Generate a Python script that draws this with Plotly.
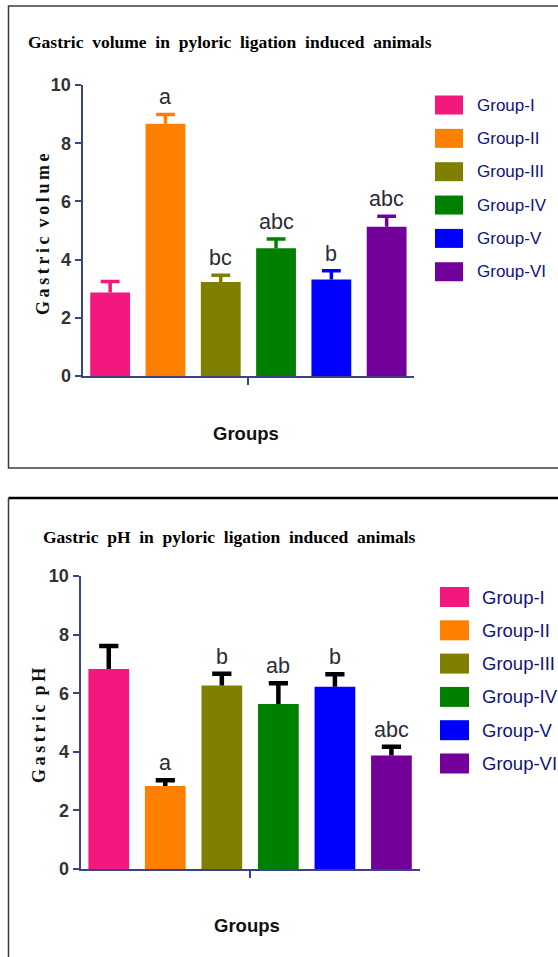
import plotly.graph_objects as go

W, H = 558, 957

# ---------------- data ----------------
groups = ["Group-I", "Group-II", "Group-III", "Group-IV", "Group-V", "Group-VI"]
colors = ["#F2187E", "#FF7F00", "#808000", "#008000", "#0000FF", "#73009A"]

vol_mean = [2.87, 8.67, 3.23, 4.39, 3.32, 5.13]
vol_err = [0.38, 0.32, 0.23, 0.32, 0.30, 0.36]
vol_letters = ["", "a", "bc", "abc", "b", "abc"]

ph_mean = [6.83, 2.83, 6.26, 5.63, 6.22, 3.87]
ph_err = [0.78, 0.20, 0.40, 0.71, 0.43, 0.30]
ph_letters = ["", "a", "b", "ab", "b", "abc"]

y_ticks = [0, 2, 4, 6, 8, 10]

vol_title = "Gastric volume in pyloric ligation induced animals"
ph_title = "Gastric pH in pyloric ligation induced animals"
vol_ytitle = "Gastric volume"
ph_ytitle = "Gastric pH"
x_title = "Groups"

# ---------------- helpers ----------------
AX = "#3A4388"
LEG_TXT = "#12127A"
LET_COL = "#2B2B38"
SANS = "Arial"


def px(x):
    return x / W


def py(y):
    return 1 - y / H


def spaced_title(s):
    return " \u00a0".join(s.split(" "))


def spaced_letters(s):
    return " \u00a0".join("\u2009".join(list(w)) for w in s.split(" "))


panels = [
    dict(ax="", mean=vol_mean, err=vol_err, letters=vol_letters,
         xdom=(82.5, 414.3), ytop=85, ybot=376,
         title=vol_title, tx=25.6, ty=42,
         ytitle=vol_ytitle, ytx=43, yty=234,
         gx=246, gy=433,
         leg_sq=(435, 463), leg_tx=475, leg_y0=105, leg_dy=33.35, leg_h=19, leg_fs=17,
         err_col=None, err_w=3.5),
    dict(ax="2", mean=ph_mean, err=ph_err, letters=ph_letters,
         xdom=(80.5, 419.7), ytop=576, ybot=869,
         title=ph_title, tx=41, ty=537,
         ytitle=ph_ytitle, ytx=39, yty=725,
         gx=247, gy=925,
         leg_sq=(440, 469), leg_tx=480, leg_y0=597, leg_dy=33.3, leg_h=20, leg_fs=18.5,
         err_col="#000000", err_w=4.5),
]

fig = go.Figure()
annotations = []
shapes = []
layout_axes = {}

for p in panels:
    xa = "x" + p["ax"]
    ya = "y" + p["ax"]
    n = len(groups)
    for i in range(n):
        m = p["mean"][i]
        fig.add_trace(go.Bar(
            x=[i], y=[m], width=0.72, marker_color=colors[i],
            marker_line_width=0, xaxis=xa, yaxis=ya, showlegend=False,
            name=groups[i], hoverinfo="skip"))
    for i in range(n):
        m = p["mean"][i]
        e = p["err"][i]
        hw = 0.17
        ec = p["err_col"] or colors[i]
        fig.add_trace(go.Scatter(
            x=[i, i, None, i - hw, i + hw],
            y=[m, m + e, None, m + e, m + e],
            mode="lines", line=dict(color=ec, width=p["err_w"]),
            xaxis=xa, yaxis=ya, showlegend=False, hoverinfo="skip"))
        if p["letters"][i]:
            annotations.append(dict(
                x=i, y=m + e, xref=xa, yref=ya, text=p["letters"][i],
                showarrow=False, yanchor="bottom", yshift=3,
                font=dict(family=SANS, size=21.5, color=LET_COL)))

    layout_axes["xaxis" + p["ax"]] = dict(
        domain=[px(p["xdom"][0]), px(p["xdom"][1])], range=[-0.5, n - 0.5],
        showline=True, linecolor=AX, linewidth=2,
        tickvals=[(n - 1) / 2], ticks="outside", ticklen=7, tickwidth=2,
        tickcolor=AX, showticklabels=False, showgrid=False, zeroline=False,
        anchor=ya, fixedrange=True, automargin=False)
    layout_axes["yaxis" + p["ax"]] = dict(
        domain=[py(p["ybot"]), py(p["ytop"])], range=[0, 10],
        showline=True, linecolor=AX, linewidth=2,
        tickvals=y_ticks, ticks="outside", ticklen=6, tickwidth=2, tickcolor=AX,
        tickfont=dict(family=SANS, size=18, color="#333333", weight="bold"),
        showgrid=False, zeroline=False, anchor=xa, fixedrange=True, automargin=False)

    # chart title
    annotations.append(dict(
        x=px(p["tx"]), y=py(p["ty"]), xref="paper", yref="paper",
        xanchor="left", yanchor="middle", showarrow=False,
        text=spaced_title(p["title"]),
        font=dict(family="Liberation Serif", size=17.5, color="#000000", weight="bold")))
    # y-axis title
    annotations.append(dict(
        x=px(p["ytx"]), y=py(p["yty"]), xref="paper", yref="paper",
        xanchor="center", yanchor="middle", showarrow=False, textangle=-90,
        text=spaced_letters(p["ytitle"]),
        font=dict(family="Liberation Serif", size=18, color="#111111", weight="bold")))
    # x-axis title
    annotations.append(dict(
        x=px(p["gx"]), y=py(p["gy"]), xref="paper", yref="paper",
        xanchor="center", yanchor="middle", showarrow=False, text=x_title,
        font=dict(family=SANS, size=18.5, color="#111111", weight="bold")))

    # manual legend
    for k, g in enumerate(groups):
        cy = p["leg_y0"] + k * p["leg_dy"]
        shapes.append(dict(
            type="rect", xref="paper", yref="paper",
            x0=px(p["leg_sq"][0]), x1=px(p["leg_sq"][1]),
            y0=py(cy + p["leg_h"] / 2), y1=py(cy - p["leg_h"] / 2),
            fillcolor=colors[k], line=dict(width=0)))
        annotations.append(dict(
            x=px(p["leg_tx"]), y=py(cy), xref="paper", yref="paper",
            xanchor="left", yanchor="middle", showarrow=False, text=g,
            font=dict(family=SANS, size=p["leg_fs"], color=LEG_TXT)))

# panel frames
shapes.append(dict(type="rect", xref="paper", yref="paper",
                   x0=px(8.5), x1=1.05, y0=py(468), y1=py(6),
                   line=dict(color="#3C3C3C", width=1.5), fillcolor="rgba(0,0,0,0)"))
shapes.append(dict(type="line", xref="paper", yref="paper",
                   x0=px(8.5), x1=1.05, y0=py(498), y1=py(498),
                   line=dict(color="#000000", width=2.5)))
shapes.append(dict(type="line", xref="paper", yref="paper",
                   x0=px(8.5), x1=px(8.5), y0=py(498), y1=-0.05,
                   line=dict(color="#3C3C3C", width=1.5)))

fig.update_layout(
    width=W, height=H, autosize=False,
    margin=dict(l=0, r=0, t=0, b=0),
    paper_bgcolor="white", plot_bgcolor="white",
    barmode="overlay", showlegend=False,
    annotations=annotations, shapes=shapes,
    **layout_axes)

fig.write_html("out.html")
